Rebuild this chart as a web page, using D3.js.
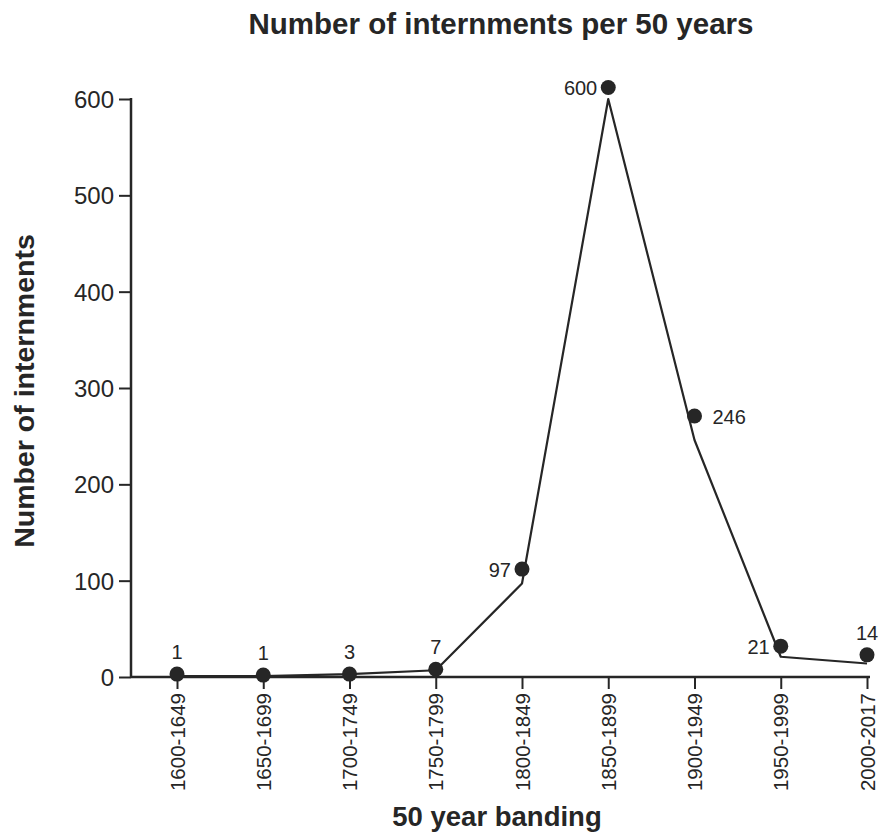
<!DOCTYPE html>
<html>
<head>
<meta charset="utf-8">
<script src="https://cdn.jsdelivr.net/npm/d3@7"></script>
<style>
  body { margin: 0; background: #fff; }
  svg { display: block; font-family: "Liberation Sans", Arial, Helvetica, sans-serif; }
</style>
</head>
<body>
<div class="chart"></div>
<script>
// 50 year bands
const bands = ['1600-1649', '1650-1699', '1700-1749', '1750-1799', '1800-1849',
               '1850-1899', '1900-1949', '1950-1999', '2000-2017']
// printed counts (the line follows these)
const counts = [1, 1, 3, 7, 97, 600, 246, 21, 14]
// where the dots sit in the picture (a little above the line)
const dotLevels = [3, 2, 3, 8, 112, 612, 271, 32, 23]
// where each count label goes relative to its dot
const labelSide = ['top', 'top', 'top', 'top', 'left', 'left', 'right', 'left', 'top']
const yTicks = [0, 100, 200, 300, 400, 500, 600]

const width = 881
const height = 837
const ink = '#262626'

const svg = d3.select('.chart').append('svg')
  .attr('width', width)
  .attr('height', height)

const x = d3.scalePoint()
  .domain(bands)
  .range([177, 867])

const y = d3.scaleLinear()
  .domain([0, 600])
  .range([677, 99])

const left = 131
const right = 870

// y axis
const yAxis = svg.append('g')
  .attr('transform', `translate(${left},0)`)
  .call(d3.axisLeft(y).tickValues(yTicks).tickSize(12).tickPadding(5).tickSizeOuter(0))
yAxis.select('.domain').remove()
yAxis.selectAll('line').attr('stroke', ink).attr('stroke-width', 2)
yAxis.selectAll('text')
  .attr('fill', ink)
  .style('font-size', '24px')
  .attr('dy', '0.36em')
yAxis.append('line')
  .attr('x1', 0).attr('x2', 0)
  .attr('y1', y(600) - 1).attr('y2', y(0) + 1)
  .attr('stroke', ink).attr('stroke-width', 2.5)

// x axis
const xAxis = svg.append('g')
  .attr('transform', `translate(0,${y(0)})`)
  .call(d3.axisBottom(x).tickSize(12).tickPadding(4).tickSizeOuter(0))
xAxis.select('.domain').remove()
xAxis.selectAll('line').attr('stroke', ink).attr('stroke-width', 2)
xAxis.selectAll('text')
  .attr('fill', ink)
  .style('font-size', '20.5px')
  .attr('text-anchor', 'end')
  .attr('transform', 'rotate(-90)')
  .attr('x', -16)
  .attr('y', 0)
  .attr('dy', '0.35em')
xAxis.append('line')
  .attr('x1', left).attr('x2', right)
  .attr('y1', 0).attr('y2', 0)
  .attr('stroke', ink).attr('stroke-width', 2.5)

// line through counts
const line = d3.line()
  .x((d, i) => x(bands[i]))
  .y(d => y(d))

svg.append('path')
  .datum(counts)
  .attr('fill', 'none')
  .attr('stroke', ink)
  .attr('stroke-width', 2.2)
  .attr('stroke-linejoin', 'round')
  .attr('d', line)

// dots
svg.append('g')
  .selectAll('circle')
  .data(dotLevels)
  .join('circle')
    .attr('cx', (d, i) => x(bands[i]))
    .attr('cy', d => y(d))
    .attr('r', 7.5)
    .attr('fill', ink)

// count labels
svg.append('g')
  .selectAll('text')
  .data(counts)
  .join('text')
    .attr('fill', ink)
    .style('font-size', '20px')
    .attr('text-anchor', (d, i) => labelSide[i] == 'top' ? 'middle' : labelSide[i] == 'left' ? 'end' : 'start')
    .attr('x', (d, i) => {
      const cx = x(bands[i])
      if (labelSide[i] == 'left') return cx - 11
      if (labelSide[i] == 'right') return cx + 18
      return cx
    })
    .attr('y', (d, i) => {
      const cy = y(dotLevels[i])
      if (labelSide[i] == 'top') return cy - 15
      return cy + 8
    })
    .text(d => d)

// titles
svg.append('text')
  .attr('x', 501)
  .attr('y', 34)
  .attr('text-anchor', 'middle')
  .attr('fill', ink)
  .style('font-size', '29.5px')
  .style('font-weight', 'bold')
  .text('Number of internments per 50 years')

svg.append('text')
  .attr('x', 497)
  .attr('y', 826)
  .attr('text-anchor', 'middle')
  .attr('fill', ink)
  .style('font-size', '27.5px')
  .style('font-weight', 'bold')
  .text('50 year banding')

svg.append('text')
  .attr('transform', 'translate(34,391) rotate(-90)')
  .attr('text-anchor', 'middle')
  .attr('fill', ink)
  .style('font-size', '28.5px')
  .style('font-weight', 'bold')
  .text('Number of internments')
</script>
</body>
</html>
